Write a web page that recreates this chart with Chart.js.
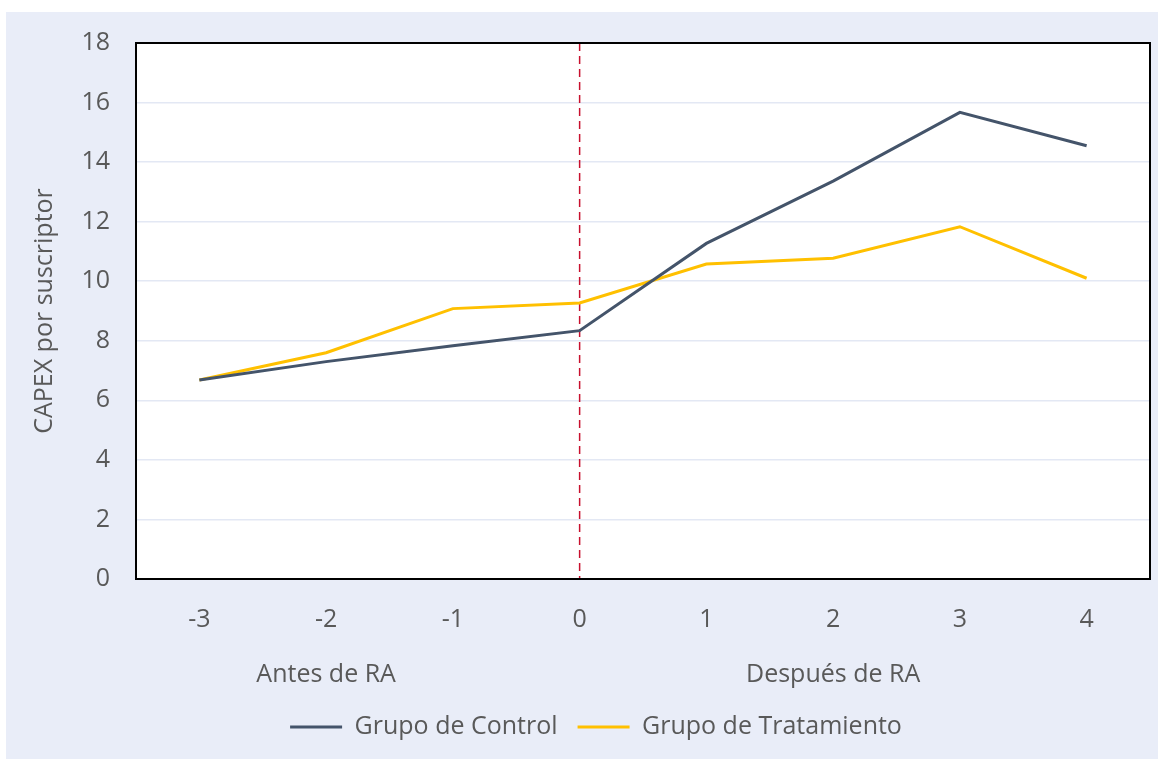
<!DOCTYPE html>
<html>
<head>
<meta charset="utf-8">
<script src="https://cdn.jsdelivr.net/npm/chart.js@4/dist/chart.umd.min.js"></script>
<style>
  body { margin: 0; background: #fff; }
  canvas { display: block; }
</style>
</head>
<body>
<canvas id="grafico" width="1166" height="759"></canvas>
<script>
// dati
var periodos = ['-3', '-2', '-1', '0', '1', '2', '3', '4'];
var etapas = ['', 'Antes de RA', '', '', '', 'Después de RA', '', ''];
var grupoControl = [6.68, 7.30, 7.83, 8.34, 11.27, 13.36, 15.67, 14.55];
var grupoTratamiento = [6.68, 7.60, 9.08, 9.27, 10.58, 10.77, 11.83, 10.10];
var periodoRA = '0';

var fuente = "'Open Sans', 'Noto Sans', sans-serif";
var grigio = '#595959';

// sfondo lilla + area bianca + cornice + linea tratteggiata
var decorazioni = {
  id: 'decorazioni',
  beforeDraw: function(chart) {
    var ctx = chart.ctx;
    var a = chart.chartArea;
    ctx.save();
    ctx.fillStyle = '#E9EDF8';
    ctx.fillRect(6, 12, 1152, 747);
    ctx.fillStyle = '#ffffff';
    ctx.fillRect(a.left, a.top, a.right - a.left, a.bottom - a.top);
    ctx.restore();
  },
  beforeDatasetsDraw: function(chart) {
    var ctx = chart.ctx;
    var a = chart.chartArea;
    var x = chart.scales.x.getPixelForValue(periodos.indexOf(periodoRA));
    ctx.save();
    ctx.strokeStyle = '#C8102E';
    ctx.lineWidth = 1.5;
    ctx.setLineDash([8, 5]);
    ctx.beginPath();
    ctx.moveTo(x, a.top);
    ctx.lineTo(x, a.bottom);
    ctx.stroke();
    ctx.restore();
  },
  afterDatasetsDraw: function(chart) {
    var ctx = chart.ctx;
    var a = chart.chartArea;
    ctx.save();
    ctx.strokeStyle = '#000000';
    ctx.lineWidth = 2;
    ctx.strokeRect(a.left, a.top, a.right - a.left, a.bottom - a.top);
    ctx.restore();
  }
};

stampaGrafico();

function stampaGrafico() {
  var ctx = document.getElementById('grafico');
  var chart = new Chart(ctx, {
    type: 'line',
    data: {
      labels: periodos,
      datasets: [{
        label: 'Grupo de Control',
        data: grupoControl,
        borderColor: '#44546A',
        backgroundColor: '#44546A',
        borderWidth: 3,
        pointRadius: 0,
        tension: 0
      }, {
        label: 'Grupo de Tratamiento',
        data: grupoTratamiento,
        borderColor: '#FFC000',
        backgroundColor: '#FFC000',
        borderWidth: 3,
        pointRadius: 0,
        tension: 0
      }]
    },
    options: {
      responsive: false,
      animation: false,
      layout: {
        padding: { left: 42, top: 43, right: 16, bottom: 9.5 }
      },
      scales: {
        x: {
          weight: 1,
          offset: true,
          grid: { display: false, drawTicks: false },
          border: { display: true, color: '#000', width: 2 },
          ticks: { color: grigio, font: { family: fuente, size: 25 }, padding: 26 },
          afterFit: function(s) { s.height = 52; }
        },
        x2: {
          type: 'category',
          position: 'bottom',
          weight: 2,
          offset: true,
          labels: etapas,
          grid: { display: false, drawTicks: false },
          border: { display: false },
          ticks: { color: grigio, font: { family: fuente, size: 25 }, padding: 29, autoSkip: false, maxRotation: 0 },
          afterFit: function(s) { s.height = 63.5; }
        },
        y: {
          min: 0,
          max: 18,
          grid: { color: '#E3E8F4', lineWidth: 1.5, drawTicks: false },
          border: { display: true, color: '#000', width: 2 },
          ticks: { stepSize: 2, color: grigio, font: { family: fuente, size: 25 }, padding: 26 },
          title: {
            display: true,
            text: 'CAPEX por suscriptor',
            color: grigio,
            font: { family: fuente, size: 25 },
            padding: { top: -12, bottom: 0 }
          },
          afterFit: function(s) { s.width = 94; }
        }
      },
      plugins: {
        legend: {
          position: 'bottom',
          labels: {
            usePointStyle: true,
            pointStyle: 'line',
            pointStyleWidth: 52,
            padding: 20,
            color: grigio,
            font: { family: fuente, size: 25 }
          }
        },
        tooltip: { enabled: false }
      }
    },
    plugins: [decorazioni]
  });
}
</script>
</body>
</html>
